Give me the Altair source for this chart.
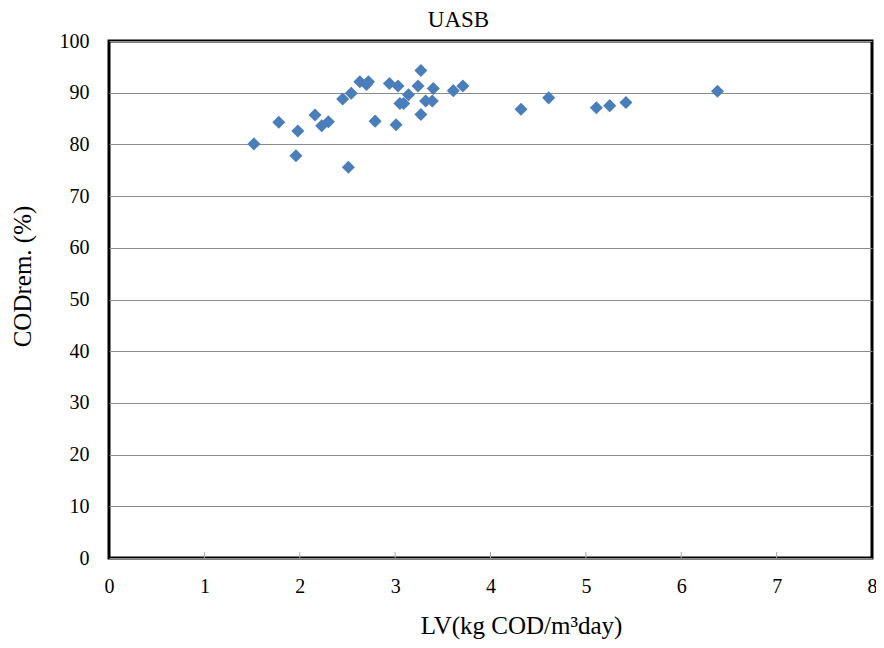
import altair as alt
import pandas as pd

lv = [1.52, 1.78, 1.98, 1.96, 2.16, 2.23, 2.30, 2.45, 2.54, 2.51, 2.63, 2.72, 2.70,
      2.79, 2.94, 3.03, 3.01, 3.05, 3.09, 3.14, 3.24, 3.27, 3.27, 3.32, 3.39, 3.40,
      3.61, 3.71, 4.32, 4.61, 5.11, 5.25, 5.42, 6.38]
cod = [80.1, 84.3, 82.6, 77.8, 85.7, 83.6, 84.4, 88.8, 89.9, 75.6, 92.1, 92.1, 91.6,
       84.5, 91.8, 91.3, 83.8, 87.9, 87.9, 89.6, 91.3, 94.3, 85.8, 88.4, 88.4, 90.8,
       90.4, 91.3, 86.8, 89.0, 87.1, 87.5, 88.1, 90.3]
x_ticks = [1, 2, 3, 4, 5, 6, 7]

df = pd.DataFrame({"lv": lv, "cod": cod})
tick_df = pd.DataFrame({"t": x_ticks})
FONT = "Liberation Serif"

W, H = 763, 517
xscale = alt.Scale(domain=[0, 8], nice=False)

points = alt.Chart(df).mark_point(
    shape="diamond", filled=True, size=170, color="#4A7EBB", opacity=1
).encode(
    x=alt.X("lv:Q", scale=xscale,
            axis=alt.Axis(values=list(range(0, 9)), format="d", grid=False,
                          domain=False, ticks=False, labelFlush=False,
                          labelFont=FONT, labelFontSize=20, labelColor="#000000",
                          labelPadding=18,
                          title="LV(kg COD/m³day)", titleFont=FONT, titleFontSize=25,
                          titleFontWeight="normal", titleColor="#000000",
                          titleAlign="center", titleBaseline="middle",
                          titleX=412, titleY=67)),
    y=alt.Y("cod:Q", scale=alt.Scale(domain=[0, 100], nice=False),
            axis=alt.Axis(values=list(range(0, 101, 10)), format="d", grid=True,
                          gridColor="#8c8c8c", gridWidth=1, domain=False,
                          ticks=False, labelFont=FONT, labelFontSize=20,
                          labelColor="#000000", labelPadding=20,
                          title="CODrem. (%)", titleFont=FONT, titleFontSize=25,
                          titleFontWeight="normal", titleColor="#000000",
                          titleAlign="center", titleBaseline="middle",
                          titleX=-87, titleY=235)),
)

ticks = alt.Chart(tick_df).mark_rule(color="#aaaaaa", strokeWidth=1).encode(
    x=alt.X("t:Q", scale=xscale),
    y=alt.value(H - 6),
    y2=alt.value(H),
)

chart = alt.layer(points, ticks).properties(
    width=W, height=H,
    background="#ffffff",
    title=alt.TitleParams("UASB", font=FONT, fontSize=23, fontWeight="normal",
                          color="#000000", offset=4, dx=-32, dy=5),
    autosize=alt.AutoSizeParams(type="none"),
    padding={"left": 101, "top": 33, "right": 4, "bottom": 82},
).configure_view(
    stroke="#000000", strokeWidth=3
).configure_axis(
    labelFont=FONT, titleFont=FONT
)

chart.save("out.html", embed_options={"renderer": "svg", "actions": False})
